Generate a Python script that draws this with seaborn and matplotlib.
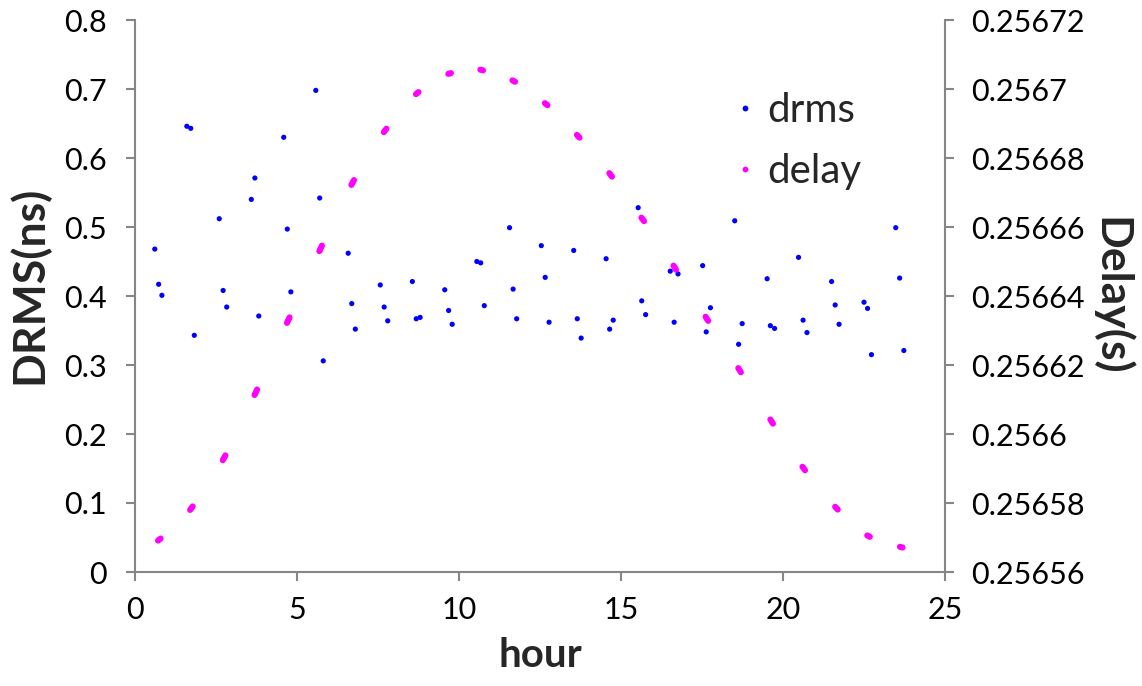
import matplotlib
matplotlib.use("Agg")
import matplotlib.pyplot as plt
from matplotlib.lines import Line2D
from matplotlib.ticker import FuncFormatter
import pandas as pd
import seaborn as sns

# DRMS samples (hour of day, ns)
drms_hour = [0.61, 0.73, 0.83, 1.60, 1.72, 1.83, 2.60, 2.72, 2.83,
             3.59, 3.70, 3.82, 4.59, 4.70, 4.81, 5.58, 5.70, 5.81,
             6.58, 6.69, 6.80, 7.57, 7.69, 7.80, 8.56, 8.68, 8.80,
             9.56, 9.68, 9.79, 10.55, 10.67, 10.78, 11.56, 11.67, 11.78,
             12.54, 12.66, 12.78, 13.54, 13.65, 13.77, 14.54, 14.65, 14.76,
             15.53, 15.64, 15.76, 16.52, 16.64, 16.76, 17.52, 17.63, 17.76,
             18.51, 18.63, 18.74, 19.51, 19.61, 19.74, 20.48, 20.62, 20.74,
             21.50, 21.61, 21.73, 22.50, 22.61, 22.73, 23.48, 23.60, 23.73]
drms_ns = [0.468, 0.417, 0.401, 0.646, 0.643, 0.343, 0.512, 0.408, 0.384,
           0.540, 0.571, 0.371, 0.630, 0.497, 0.406, 0.698, 0.542, 0.306,
           0.462, 0.389, 0.352, 0.416, 0.384, 0.364, 0.421, 0.367, 0.369,
           0.409, 0.379, 0.359, 0.450, 0.448, 0.386, 0.499, 0.410, 0.367,
           0.473, 0.427, 0.362, 0.466, 0.367, 0.339, 0.454, 0.352, 0.365,
           0.528, 0.393, 0.373, 0.436, 0.362, 0.432, 0.444, 0.348, 0.383,
           0.509, 0.330, 0.360, 0.425, 0.357, 0.353, 0.456, 0.365, 0.347,
           0.421, 0.387, 0.359, 0.391, 0.382, 0.315, 0.499, 0.426, 0.321]

# Delay measured over a short window each hour: first and last sample of each window
delay_hour_start = [0.71, 1.70, 2.71, 3.69, 4.69, 5.69, 6.68, 7.68, 8.67, 9.67, 10.66, 11.65,
                    12.65, 13.64, 14.64, 15.63, 16.62, 17.61, 18.62, 19.61, 20.60, 21.61, 22.60, 23.61]
delay_hour_end = [0.79, 1.78, 2.79, 3.77, 4.77, 5.77, 6.76, 7.76, 8.75, 9.75, 10.74, 11.73,
                  12.73, 13.72, 14.72, 15.71, 16.70, 17.69, 18.70, 19.69, 20.68, 21.69, 22.68, 23.69]
delay_start = [0.2565691, 0.2565780, 0.2565924, 0.2566113, 0.2566322, 0.2566530,
               0.2566722, 0.2566875, 0.2566985, 0.2567044, 0.2567056, 0.2567025,
               0.2566959, 0.2566867, 0.2566756, 0.2566627, 0.2566488, 0.2566340,
               0.2566191, 0.2566042, 0.2565905, 0.2565789, 0.2565706, 0.2565673]
delay_end = [0.2565697, 0.2565790, 0.2565938, 0.2566129, 0.2566338, 0.2566546,
             0.2566736, 0.2566885, 0.2566991, 0.2567046, 0.2567054, 0.2567021,
             0.2566953, 0.2566859, 0.2566746, 0.2566617, 0.2566476, 0.2566328,
             0.2566179, 0.2566030, 0.2565895, 0.2565781, 0.2565702, 0.2565671]

x_ticks = [0, 5, 10, 15, 20, 25]
drms_ticks = [0, 0.1, 0.2, 0.3, 0.4, 0.5, 0.6, 0.7, 0.8]
delay_ticks = [0.25656, 0.25658, 0.2566, 0.25662, 0.25664, 0.25666, 0.25668, 0.2567, 0.25672]

BLUE = "#0000FF"
MAGENTA = "#FF00FF"
GRAY = "#868686"

sns.set_theme(style="white")
plt.rcParams["font.family"] = ["Lato", "DejaVu Sans"]

drms_df = pd.DataFrame({"hour": drms_hour, "drms": drms_ns})
n = len(delay_start)
delay_df = pd.DataFrame({
    "window": list(range(n)) * 2,
    "hour": delay_hour_start + delay_hour_end,
    "delay": delay_start + delay_end,
})

fig = plt.figure(figsize=(11.42, 6.86), dpi=100)
ax = fig.add_axes([135 / 1142, 1 - 572 / 686, (945 - 135) / 1142, (572 - 20) / 686])
ax2 = ax.twinx()

sns.scatterplot(data=drms_df, x="hour", y="drms", ax=ax, color=BLUE, s=14,
                linewidth=0, edgecolor="none", legend=False, zorder=3)
sns.lineplot(data=delay_df, x="hour", y="delay", units="window", estimator=None,
             ax=ax2, color=MAGENTA, lw=4.4, solid_capstyle="round",
             legend=False, sort=True)

ax.set_xlim(0, 25)
ax.set_ylim(0, 0.8)
ax2.set_ylim(0.25656, 0.25672)
ax.set_xticks(x_ticks)
ax.set_yticks(drms_ticks)
ax2.set_yticks(delay_ticks)
ax.yaxis.set_major_formatter(FuncFormatter(lambda v, p: f"{v:g}"))
ax2.yaxis.set_major_formatter(
    FuncFormatter(lambda v, p: f"{v:.5f}".rstrip("0").rstrip(".")))

for a in (ax, ax2):
    a.set_facecolor("none")
    a.spines["top"].set_visible(False)
    for side in ("left", "right", "bottom"):
        a.spines[side].set_color(GRAY)
        a.spines[side].set_linewidth(1.5)
    a.tick_params(axis="both", which="major", direction="out", length=6.5,
                  width=1.5, color=GRAY, labelsize=22, labelcolor="black")
ax.spines["right"].set_visible(False)
ax2.spines["left"].set_visible(False)
ax2.spines["bottom"].set_visible(False)
ax.tick_params(axis="y", left=True, pad=14)
ax.tick_params(axis="x", bottom=True, pad=11)
ax2.tick_params(axis="y", right=True, pad=12)

ax.set_xlabel("hour", fontsize=29, fontweight="bold", labelpad=9)
ax.set_ylabel("DRMS(ns)", fontsize=32, fontweight="bold", labelpad=10)
ax.yaxis.label.set_y(0.52)
ax2.set_ylabel("Delay(s)", fontsize=32, fontweight="bold", rotation=270, labelpad=34)

handles = [Line2D([], [], ls="", marker="o", markersize=4.2, color=BLUE, markeredgewidth=0),
           Line2D([], [], ls="", marker="o", markersize=4.2, color=MAGENTA, markeredgewidth=0)]
fig.legend(handles, ["drms", "delay"], loc="upper left",
           bbox_to_anchor=(735 / 1142, 1 - 92 / 686), frameon=False,
           borderpad=0, borderaxespad=0,
           fontsize=29, handlelength=0.5, handletextpad=0.3, labelspacing=0.6)

fig.savefig("out.png", dpi=100)
